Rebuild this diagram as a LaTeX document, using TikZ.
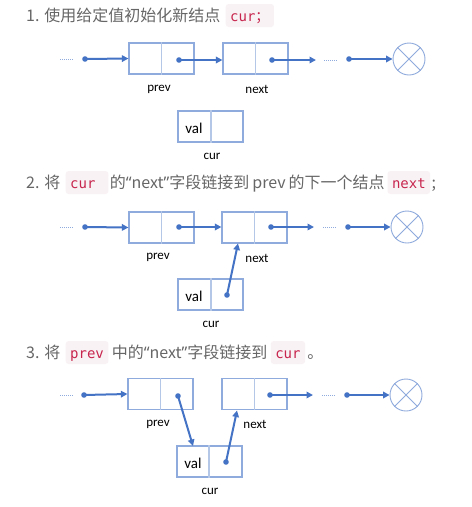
\documentclass[tikz,border=0pt]{standalone}
\usepackage{fontspec}
\setmainfont{Noto Sans CJK SC}
\newfontfamily\labfont{Carlito}
\newfontfamily\codefont{DejaVu Sans Mono}
\newfontfamily\qfont{Noto Sans}
\usetikzlibrary{arrows.meta}
\definecolor{titlegray}{HTML}{666666}
\definecolor{boxblue}{HTML}{8FAADC}
\definecolor{divblue}{HTML}{B4C7E7}
\definecolor{arrowblue}{HTML}{4472C4}
\definecolor{codebg}{HTML}{F9F2F4}
\definecolor{codefg}{HTML}{C7254E}
\newcommand{\myql}{{\qfont “}}
\newcommand{\myqr}{{\qfont ”}}
\begin{document}
\begin{tikzpicture}[x=1pt,y=-1pt,
  ttl/.style={anchor=base west, inner sep=0pt, text=titlegray, font=\fontsize{16}{19}\selectfont},
  code/.style={anchor=base west, fill=codebg, rounded corners=3pt, inner xsep=4.5pt, inner ysep=0pt,
    text height=17pt, text depth=6pt, text=codefg, font=\codefont\fontsize{14}{16}\selectfont},
  listbox/.style={draw=boxblue, line width=1.2pt, minimum width=65pt, minimum height=31pt, inner sep=0pt},
  divider/.style={draw=divblue, line width=1.2pt},
  arr/.style={draw=arrowblue, line width=2pt, -{Triangle[length=6.5pt,width=6.5pt]}},
  dotfill/.style={fill=arrowblue},
  dotline/.style={draw=boxblue, line width=1pt, dash pattern=on 1pt off 1pt},
  nullnode/.style={circle, draw=boxblue, line width=0.9pt, minimum size=32pt, inner sep=0pt},
  cross/.style={draw=boxblue, line width=0.9pt},
  lab/.style={font=\labfont\fontsize{13}{15}\selectfont, inner sep=0pt},
  valtxt/.style={font=\labfont\fontsize{15}{17}\selectfont, inner sep=0pt}
]
\useasboundingbox[fill=white] (0,0) rectangle (472,507);

% ---------------- Title 1 ----------------
\node[ttl] (t1a) at (26,21) {1. 使用给定值初始化新结点};
\node[code] (c1a) at ([xshift=5pt]t1a.base east) {cur{\rmfamily ；}};

% ---------------- Diagram 1 ----------------
\coordinate (d1a) at (60,59); \coordinate (d1b) at (73,59);
\draw[dotline] (d1a) -- (d1b);
\node[listbox] (p1) at (161.5,58.5) {};
\draw[divider] (p1.north) -- (p1.south);
\node[listbox] (n1) at (255.5,58.5) {};
\draw[divider] (n1.north) -- (n1.south);
\coordinate (s1a) at (85,59);
\coordinate (s1b) at (179,60);
\coordinate (s1c) at (272,60);
\coordinate (e1c) at (316,60);
\coordinate (d1c) at (324,60); \coordinate (d1d) at (337,60);
\coordinate (s1d) at (349,59);
\node[nullnode] (z1) at (409,59) {};
\draw[cross] (z1.45) -- (z1.225) (z1.135) -- (z1.315);
\draw[arr] (s1a) -- (p1.west);
\draw[arr] (s1b) -- (n1.west |- s1b);
\draw[arr] (s1c) -- (e1c);
\draw[dotline] (d1c) -- (d1d);
\draw[arr] (s1d) -- (z1.west);
\foreach \c in {s1a,s1b,s1c,s1d} \fill[dotfill] (\c) circle (2.8pt);
\node[lab] (lp1) at (159,89) {prev};
\node[lab] (ln1) at (257,89) {next};
\node[listbox] (c1) at (210.5,126.5) {};
\draw[divider] ([xshift=0.5pt]c1.north) -- ([xshift=0.5pt]c1.south);
\node[valtxt] (v1) at (194,128) {val};
\node[lab] (lc1) at (212,156) {cur};

% ---------------- Title 2 ----------------
\node[ttl] (t2a) at (26,188) {2. 将};
\node[code] (c2a) at ([xshift=5pt]t2a.base east) {cur\hphantom{x}};
\node[ttl] (t2b) at ([xshift=1pt]c2a.base east) {的\myql next\myqr 字段链接到\hspace{3pt}prev\hspace{3pt}的下一个结点};
\node[code] (c2b) at ([xshift=2.5pt]t2b.base east) {next};
\node[ttl] (t2c) at ([xshift=1pt]c2b.base east) {;};

% ---------------- Diagram 2 ----------------
\coordinate (d2a) at (60,227); \coordinate (d2b) at (73,227);
\draw[dotline] (d2a) -- (d2b);
\node[listbox] (p2) at (161.5,227.5) {};
\draw[divider] (p2.north) -- (p2.south);
\node[listbox] (n2) at (254.5,227.5) {};
\draw[divider] (n2.north) -- (n2.south);
\coordinate (s2a) at (85,227);
\coordinate (s2b) at (179,227);
\coordinate (s2c) at (271,227);
\coordinate (e2c) at (314,227);
\coordinate (d2c) at (323,227); \coordinate (d2d) at (337,227);
\coordinate (s2d) at (348,227);
\node[nullnode] (z2) at (407,227) {};
\draw[cross] (z2.45) -- (z2.225) (z2.135) -- (z2.315);
\draw[arr] (s2a) -- (p2.west);
\draw[arr] (s2b) -- (n2.west |- s2b);
\draw[arr] (s2c) -- (e2c);
\draw[dotline] (d2c) -- (d2d);
\draw[arr] (s2d) -- (z2.west);
\node[lab] (lp2) at (158,257) {prev};
\node[lab] (ln2) at (257,258) {next};
\node[listbox] (c2) at (210.5,294.5) {};
\draw[divider] ([xshift=0.5pt]c2.north) -- ([xshift=0.5pt]c2.south);
\node[valtxt] (v2) at (194,296) {val};
\coordinate (s2e) at (227,295);
\coordinate (e2e) at (238,243.5);
\draw[arr] (s2e) -- (e2e);
\foreach \c in {s2a,s2b,s2c,s2d,s2e} \fill[dotfill] (\c) circle (2.8pt);
\node[lab] (lc2) at (211,324) {cur};

% ---------------- Title 3 ----------------
\node[ttl] (t3a) at (26,358) {3. 将};
\node[code] (c3a) at ([xshift=5pt]t3a.base east) {prev};
\node[ttl] (t3b) at ([xshift=3pt]c3a.base east) {中的\myql next\myqr 字段链接到};
\node[code] (c3b) at ([xshift=3pt]t3b.base east) {cur};
\node[ttl] (t3c) at ([xshift=2pt]c3b.base east) {。};

% ---------------- Diagram 3 ----------------
\coordinate (d3a) at (60,395); \coordinate (d3b) at (73,395);
\draw[dotline] (d3a) -- (d3b);
\node[listbox] (p3) at (160.5,394) {};
\draw[divider] (p3.north) -- (p3.south);
\node[listbox] (n3) at (254.5,394) {};
\draw[divider] (n3.north) -- (n3.south);
\coordinate (s3a) at (84,395);
\coordinate (s3b) at (178,396);
\coordinate (s3c) at (270,395);
\coordinate (e3c) at (313,395);
\coordinate (d3c) at (322,395); \coordinate (d3d) at (335,395);
\coordinate (s3d) at (347,395);
\node[nullnode] (z3) at (406,395) {};
\draw[cross] (z3.45) -- (z3.225) (z3.135) -- (z3.315);
\draw[arr] (s3a) -- (p3.west);
\draw[arr] (s3c) -- (e3c);
\draw[dotline] (d3c) -- (d3d);
\draw[arr] (s3d) -- (z3.west);
\node[lab] (lp3) at (158,424) {prev};
\node[lab] (ln3) at (255,424) {next};
\node[listbox] (c3) at (209.5,461.5) {};
\draw[divider] ([xshift=-0.5pt]c3.north) -- ([xshift=-0.5pt]c3.south);
\node[valtxt] (v3) at (193,463) {val};
\coordinate (e3b) at (193,446);
\draw[arr] (s3b) -- (e3b);
\coordinate (s3e) at (226,462);
\coordinate (e3e) at (237,410.5);
\draw[arr] (s3e) -- (e3e);
\foreach \c in {s3a,s3b,s3c,s3d,s3e} \fill[dotfill] (\c) circle (2.8pt);
\node[lab] (lc3) at (210,491) {cur};
\end{tikzpicture}
\end{document}
